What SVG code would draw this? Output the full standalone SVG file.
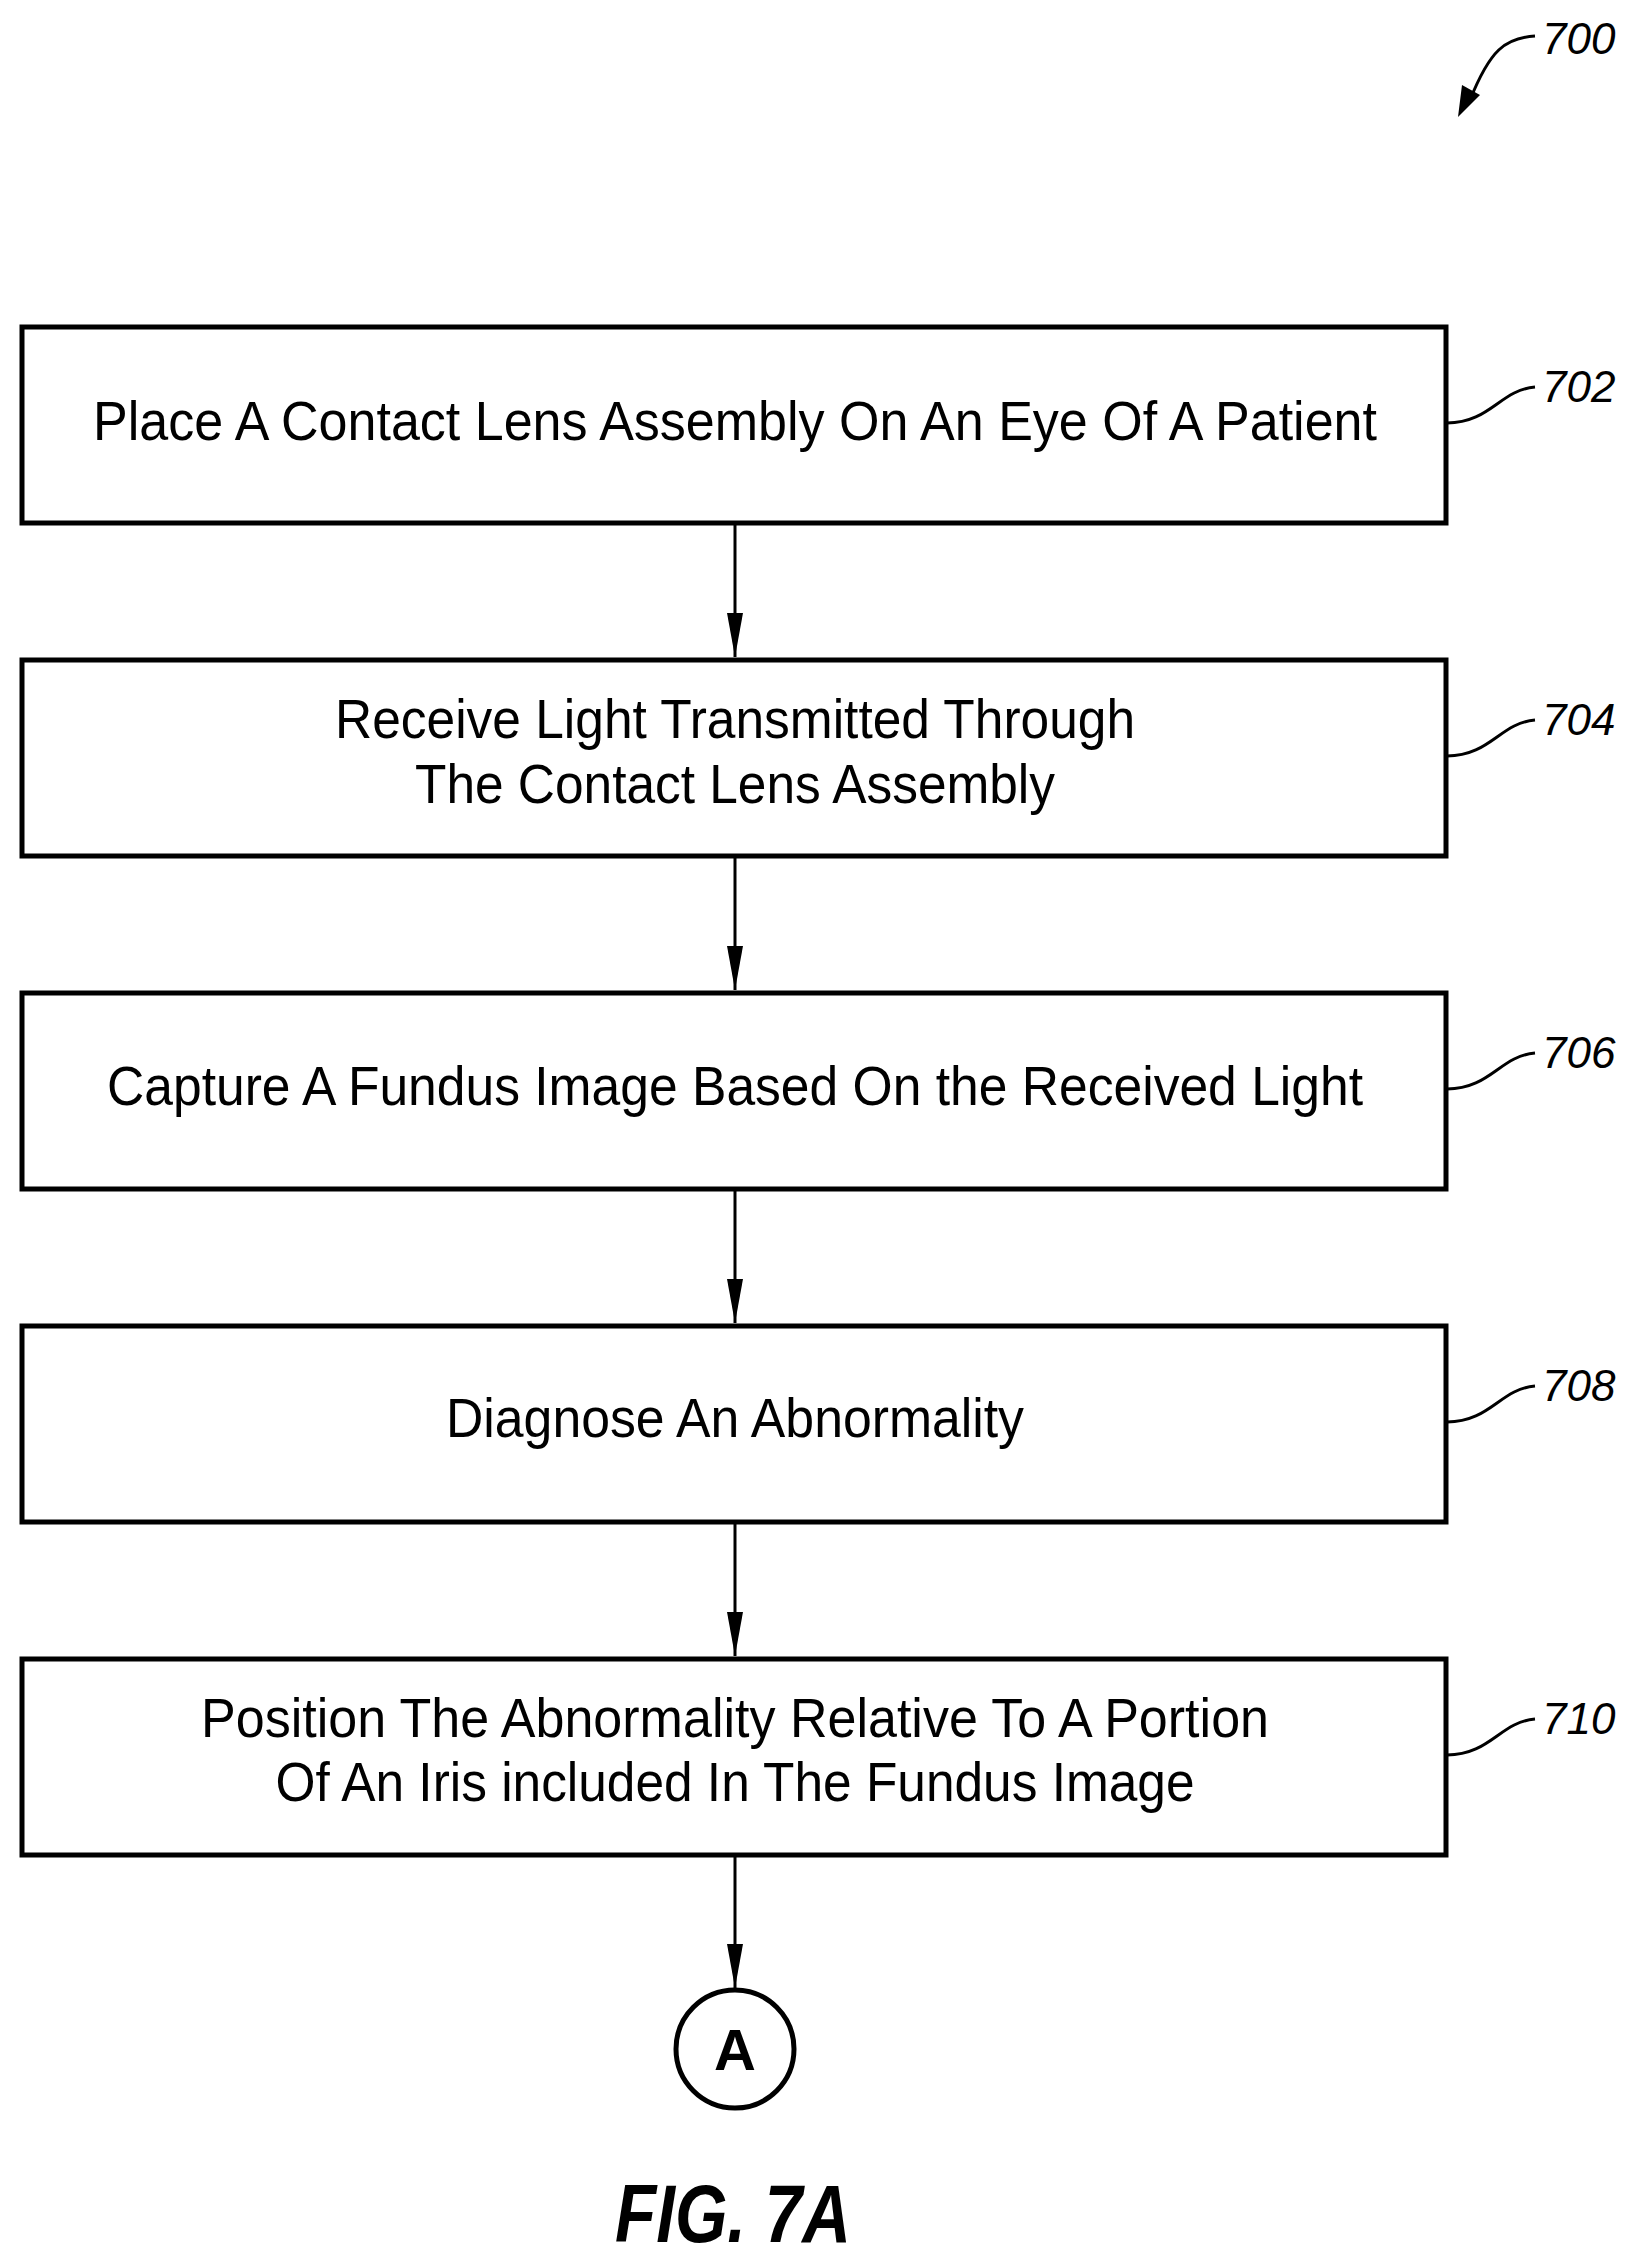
<svg xmlns="http://www.w3.org/2000/svg" width="1630" height="2257" viewBox="0 0 1630 2257">
<style>
.box{fill:#fff;stroke:#000;stroke-width:5}
.t{font-family:"Liberation Sans Narrow","Liberation Sans",sans-serif;font-size:56px;text-anchor:middle;fill:#000}
.lbl{font-family:"Liberation Sans Narrow","Liberation Sans",sans-serif;font-style:italic;font-size:44px;fill:#000}
.ln{fill:none;stroke:#000;stroke-width:3}
</style>
<defs>
<marker id="ah" markerUnits="userSpaceOnUse" markerWidth="44" markerHeight="16" refX="44" refY="8" orient="auto" viewBox="0 0 44 16">
<path d="M0,0 L44,8 L0,16 Z" fill="#000"/>
</marker>
</defs>
<rect width="1630" height="2257" fill="#fff"/>
<g id="ref700">
<path class="ln" d="M1535,36 C1505,38 1490,50 1470,100"/>
<path d="M1458,117 L1462,85 L1480,95 Z" fill="#000"/>
<text class="lbl" x="1542" y="54">700</text>
</g>
<g id="n702">
<rect class="box" x="22" y="327" width="1424" height="196"/>
<text class="t" x="735" y="440" textLength="1284" lengthAdjust="spacingAndGlyphs">Place A Contact Lens Assembly On An Eye Of A Patient</text>
<path class="ln" d="M1447,423 C1490,423 1500,390 1535,387"/>
<text class="lbl" x="1542" y="402">702</text>
</g>
<g id="n704">
<rect class="box" x="22" y="660" width="1424" height="196"/>
<text class="t" x="735" y="738" textLength="800" lengthAdjust="spacingAndGlyphs">Receive Light Transmitted Through</text>
<text class="t" x="735" y="803" textLength="640" lengthAdjust="spacingAndGlyphs">The Contact Lens Assembly</text>
<path class="ln" d="M1447,756 C1490,756 1500,723 1535,720"/>
<text class="lbl" x="1542" y="735">704</text>
</g>
<g id="n706">
<rect class="box" x="22" y="993" width="1424" height="196"/>
<text class="t" x="735" y="1105" textLength="1256" lengthAdjust="spacingAndGlyphs">Capture A Fundus Image Based On the Received Light</text>
<path class="ln" d="M1447,1089 C1490,1089 1500,1056 1535,1053"/>
<text class="lbl" x="1542" y="1068">706</text>
</g>
<g id="n708">
<rect class="box" x="22" y="1326" width="1424" height="196"/>
<text class="t" x="735" y="1437" textLength="578" lengthAdjust="spacingAndGlyphs">Diagnose An Abnormality</text>
<path class="ln" d="M1447,1422 C1490,1422 1500,1389 1535,1386"/>
<text class="lbl" x="1542" y="1401">708</text>
</g>
<g id="n710">
<rect class="box" x="22" y="1659" width="1424" height="196"/>
<text class="t" x="735" y="1737" textLength="1068" lengthAdjust="spacingAndGlyphs">Position The Abnormality Relative To A Portion</text>
<text class="t" x="735" y="1801" textLength="919" lengthAdjust="spacingAndGlyphs">Of An Iris included In The Fundus Image</text>
<path class="ln" d="M1447,1755 C1490,1755 1500,1722 1535,1719"/>
<text class="lbl" x="1542" y="1734">710</text>
</g>
<g id="nA">
<circle cx="735" cy="2049" r="59" fill="#fff" stroke="#000" stroke-width="5"/>
<text x="735" y="2070" font-family="Liberation Sans Narrow,Liberation Sans,sans-serif" font-weight="bold" font-size="58" text-anchor="middle">A</text>
</g>
<g id="connectors">
<line class="ln" x1="735" y1="525" x2="735" y2="657" marker-end="url(#ah)"/>
<line class="ln" x1="735" y1="858" x2="735" y2="990" marker-end="url(#ah)"/>
<line class="ln" x1="735" y1="1191" x2="735" y2="1323" marker-end="url(#ah)"/>
<line class="ln" x1="735" y1="1524" x2="735" y2="1656" marker-end="url(#ah)"/>
<line class="ln" x1="735" y1="1857" x2="735" y2="1988" marker-end="url(#ah)"/>
</g>
<text x="733" y="2242" font-family="Liberation Sans Narrow,Liberation Sans,sans-serif" font-weight="bold" font-style="italic" font-size="82" text-anchor="middle" textLength="236" lengthAdjust="spacingAndGlyphs">FIG. 7A</text>
</svg>
